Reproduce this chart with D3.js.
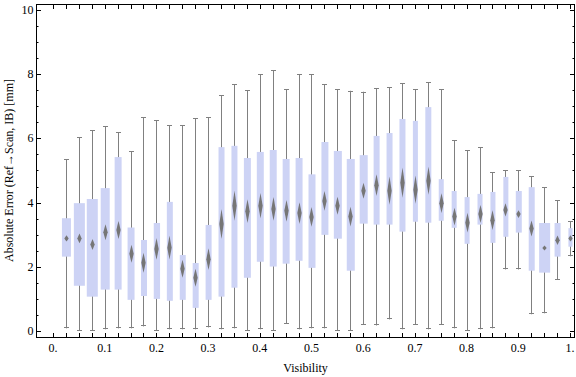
<!DOCTYPE html>
<html>
<head>
<meta charset="UTF-8">
<title>Absolute Error vs Visibility</title>
<script src="https://d3js.org/d3.v7.min.js"></script>
<style>
  body { margin: 0; background: #fff; }
  text { font-family: "Liberation Serif", "Times New Roman", serif; fill: #000; }
  .tick-label { font-size: 12px; }
  .axis-title { font-size: 12px; }
</style>
</head>
<body>
<div id="chart"></div>
<script>
// bin centres (visibility)
const visibility = [0.025, 0.05, 0.075, 0.1, 0.125, 0.15, 0.175, 0.2, 0.225, 0.25,
  0.275, 0.3, 0.325, 0.35, 0.375, 0.4, 0.425, 0.45, 0.475, 0.5,
  0.525, 0.55, 0.575, 0.6, 0.625, 0.65, 0.675, 0.7, 0.725, 0.75,
  0.775, 0.8, 0.825, 0.85, 0.875, 0.9, 0.925, 0.95, 0.975, 1.0];

// whisker ends, quartiles, mean and its confidence half-width [mm]
const whiskerLo = [0.07, 0.00, 0.00, 0.04, 0.07, 0.07, 0.13, 0.00, 0.04, 0.04,
  0.04, 0.10, 0.04, 0.07, 0.00, 0.04, 0.00, 0.22, 0.04, 0.07,
  0.07, 0.00, 0.00, 0.19, 0.16, 0.35, 0.04, 0.19, 0.04, 0.19,
  0.07, 0.00, 0.04, 0.07, 1.91, 1.91, 0.51, 0.54, 1.58, 2.32];
const q1 = [2.31, 1.40, 1.06, 1.28, 1.28, 0.96, 1.08, 0.99, 0.93, 0.96,
  0.71, 0.96, 1.06, 1.34, 1.65, 2.15, 2.00, 2.09, 2.18, 1.96,
  2.99, 2.87, 1.87, 3.34, 3.31, 3.31, 3.09, 3.40, 3.37, 3.43,
  3.21, 2.71, 3.31, 2.74, 2.93, 3.06, 1.87, 1.81, 2.31, 2.62];
const q3 = [3.51, 3.98, 4.11, 4.45, 5.42, 3.22, 2.83, 3.36, 4.02, 2.36,
  2.11, 3.30, 5.73, 5.77, 5.39, 5.58, 5.64, 5.36, 5.39, 4.88,
  5.89, 5.61, 5.36, 5.48, 6.08, 6.17, 6.61, 6.55, 6.98, 4.73,
  4.36, 4.17, 4.27, 4.33, 4.80, 4.36, 4.48, 3.36, 3.36, 3.20];
const whiskerHi = [5.35, 6.04, 6.26, 6.38, 6.19, 5.60, 6.66, 6.57, 6.41, 6.41,
  6.63, 6.66, 7.35, 7.69, 7.51, 8.00, 8.13, 7.54, 8.00, 8.00,
  7.69, 7.53, 7.49, 7.46, 7.57, 7.60, 7.72, 7.54, 7.76, 7.54,
  5.95, 5.64, 5.72, 4.94, 5.00, 5.00, 4.82, 4.47, 4.07, 3.41];
const meanErr = [2.88, 2.88, 2.69, 3.07, 3.14, 2.40, 2.12, 2.55, 2.59, 1.93,
  1.65, 2.23, 3.33, 3.90, 3.73, 3.90, 3.80, 3.74, 3.67, 3.55,
  4.05, 3.90, 3.56, 4.37, 4.54, 4.37, 4.62, 4.40, 4.68, 3.98,
  3.56, 3.37, 3.64, 3.45, 3.77, 3.64, 3.19, 2.58, 2.82, 2.88];
const meanCI = [0.10, 0.15, 0.17, 0.25, 0.28, 0.28, 0.31, 0.34, 0.37, 0.28,
  0.28, 0.34, 0.47, 0.47, 0.37, 0.40, 0.37, 0.34, 0.34, 0.31,
  0.31, 0.28, 0.31, 0.25, 0.34, 0.44, 0.47, 0.44, 0.44, 0.31,
  0.28, 0.31, 0.28, 0.31, 0.21, 0.12, 0.25, 0.08, 0.15, 0.10];
// box width, in visibility units
const boxWidth = [0.0174, 0.0213, 0.0213, 0.0174, 0.0135, 0.0135, 0.0116, 0.0122, 0.0116, 0.0116,
  0.0116, 0.0116, 0.0116, 0.0116, 0.0135, 0.0135, 0.0135, 0.0135, 0.0135, 0.0135,
  0.0135, 0.0155, 0.0155, 0.0155, 0.0116, 0.0116, 0.0116, 0.0097, 0.0116, 0.0097,
  0.0097, 0.0097, 0.0097, 0.0097, 0.0097, 0.0116, 0.0116, 0.0213, 0.0116, 0.0080];

const xTickValues = [0, 0.1, 0.2, 0.3, 0.4, 0.5, 0.6, 0.7, 0.8, 0.9, 1];
const xTickLabels = ["0.", "0.1", "0.2", "0.3", "0.4", "0.5", "0.6", "0.7", "0.8", "0.9", "1."];
const yTickValues = [0, 2, 4, 6, 8, 10];

const rows = visibility.map((v, i) => ({
  v, lo: whiskerLo[i], q1: q1[i], q3: q3[i], hi: whiskerHi[i],
  mean: meanErr[i], ci: meanCI[i], w: boxWidth[i]
}));

const W = 576, H = 377;
const pLeft = 36, pRight = 575, pTop = 4, pBottom = 337;

const x = d3.scaleLinear().domain([-0.0329, 1.0097]).range([pLeft, pRight]);
const y = d3.scaleLinear().domain([-0.2, 10.2]).range([pBottom, pTop]);

const svg = d3.select("#chart").append("svg")
  .attr("width", W).attr("height", H);

const defs = svg.append("defs");
defs.append("clipPath").attr("id", "plot-clip")
  .append("rect").attr("x", pLeft).attr("y", pTop)
  .attr("width", pRight - pLeft).attr("height", pBottom - pTop);
defs.append("filter").attr("id", "soft")
  .attr("x", "-50%").attr("y", "-50%").attr("width", "200%").attr("height", "200%")
  .append("feGaussianBlur").attr("stdDeviation", 0.7);

const plot = svg.append("g").attr("clip-path", "url(#plot-clip)");

// whiskers
const wh = plot.append("g").attr("stroke", "#808080").attr("stroke-width", 1);
wh.selectAll("line.stem").data(rows).join("line")
  .attr("class", "stem")
  .attr("x1", d => Math.round(x(d.v)) + 0.5).attr("x2", d => Math.round(x(d.v)) + 0.5)
  .attr("y1", d => y(d.lo)).attr("y2", d => y(d.hi));
wh.selectAll("line.cap-hi").data(rows).join("line")
  .attr("class", "cap-hi")
  .attr("x1", d => Math.round(x(d.v)) - 2).attr("x2", d => Math.round(x(d.v)) + 3)
  .attr("y1", d => Math.round(y(d.hi)) + 0.5).attr("y2", d => Math.round(y(d.hi)) + 0.5);
wh.selectAll("line.cap-lo").data(rows).join("line")
  .attr("class", "cap-lo")
  .attr("x1", d => Math.round(x(d.v)) - 2).attr("x2", d => Math.round(x(d.v)) + 3)
  .attr("y1", d => Math.round(y(d.lo)) - 0.5).attr("y2", d => Math.round(y(d.lo)) - 0.5);

// boxes
plot.append("g").selectAll("rect").data(rows).join("rect")
  .attr("x", d => x(d.v - d.w / 2) + 0.5)
  .attr("width", d => x(d.v + d.w / 2) - x(d.v - d.w / 2))
  .attr("y", d => y(d.q3))
  .attr("height", d => y(d.q1) - y(d.q3))
  .attr("fill", "#cdd3f5");

// mean diamonds
plot.append("g").attr("filter", "url(#soft)")
  .selectAll("path").data(rows).join("path")
  .attr("fill", "#767676")
  .attr("d", d => {
    const cx = Math.round(x(d.v)) + 0.5, cy = y(d.mean);
    const hh = Math.max(y(d.mean - d.ci) - cy, 2.5), hw = 2.2;
    return `M${cx},${cy - hh}L${cx + hw},${cy}L${cx},${cy + hh}L${cx - hw},${cy}Z`;
  });

// frame
svg.append("rect")
  .attr("x", pLeft + 0.5).attr("y", pTop + 0.5)
  .attr("width", pRight - pLeft - 1).attr("height", pBottom - pTop)
  .attr("fill", "none").attr("stroke", "#000").attr("stroke-width", 1);

// ticks
const ticks = svg.append("g").attr("stroke", "#000").attr("stroke-width", 1);
const xMinor = visibility.concat([0]);
xMinor.forEach(v => {
  const px = Math.round(x(v)) + 0.5;
  ticks.append("line").attr("x1", px).attr("x2", px).attr("y1", pBottom).attr("y2", pBottom - 4);
  ticks.append("line").attr("x1", px).attr("x2", px).attr("y1", pTop).attr("y2", pTop + 5);
});
y.ticks(20).forEach(v => {
  const py = Math.round(y(v)) + 0.5;
  const len = yTickValues.includes(v) ? 5 : 2.5;
  ticks.append("line").attr("x1", pLeft).attr("x2", pLeft + len).attr("y1", py).attr("y2", py);
  ticks.append("line").attr("x1", pRight).attr("x2", pRight - len).attr("y1", py).attr("y2", py);
});

// tick labels
svg.append("g").selectAll("text").data(xTickValues).join("text")
  .attr("class", "tick-label")
  .attr("x", d => x(d)).attr("y", 352)
  .attr("text-anchor", "middle")
  .text((d, i) => xTickLabels[i]);
svg.append("g").selectAll("text").data(yTickValues).join("text")
  .attr("class", "tick-label")
  .attr("x", 33.5).attr("y", d => y(d) + 4)
  .attr("text-anchor", "end")
  .text(d => d);

// axis titles
svg.append("text").attr("class", "axis-title")
  .attr("x", (pLeft + pRight) / 2).attr("y", 372)
  .attr("text-anchor", "middle").text("Visibility");
svg.append("text").attr("class", "axis-title")
  .attr("transform", `translate(13,${y(5)}) rotate(-90)`)
  .attr("text-anchor", "middle")
  .text("Absolute Error (Ref\u2192Scan, IB) [mm]");
</script>
</body>
</html>
